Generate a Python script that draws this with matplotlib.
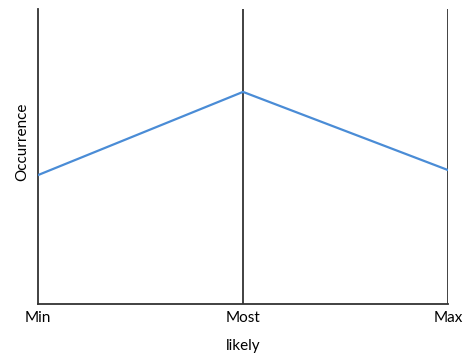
import matplotlib.pyplot as plt

# triangular estimate sketch
categories = ['Min', 'Most\nlikely', 'Max']
positions = [0, 1, 2]
occurrence = [0.437, 0.719, 0.454]

plt.rcParams['font.family'] = ['Lato', 'DejaVu Sans']

fig = plt.figure(figsize=(4.72, 3.56), dpi=100)
ax = fig.add_axes([38 / 472, 52 / 356, 410 / 472, 295 / 356])

ax.plot(positions, occurrence, color='#4a8cd6', linewidth=1.6, zorder=3)

# vertical guides at each point
for p in positions[1:]:
    ax.axvline(p, color='#333333', linewidth=1.3, zorder=2)

ax.set_xlim(0, 2)
ax.set_ylim(0, 1)
ax.set_yticks([])
ax.set_xticks(positions)
ax.set_xticklabels(categories, fontsize=11, linespacing=2.3, va='top')
ax.tick_params(axis='x', length=0, pad=5)

for s in ['top', 'right']:
    ax.spines[s].set_visible(False)
for s in ['left', 'bottom']:
    ax.spines[s].set_color('#333333')
    ax.spines[s].set_linewidth(1.3)

ax.set_ylabel('Occurrence', fontsize=11)
ax.yaxis.set_label_coords(-0.022, 0.55)

fig.savefig('out.png', dpi=100)
